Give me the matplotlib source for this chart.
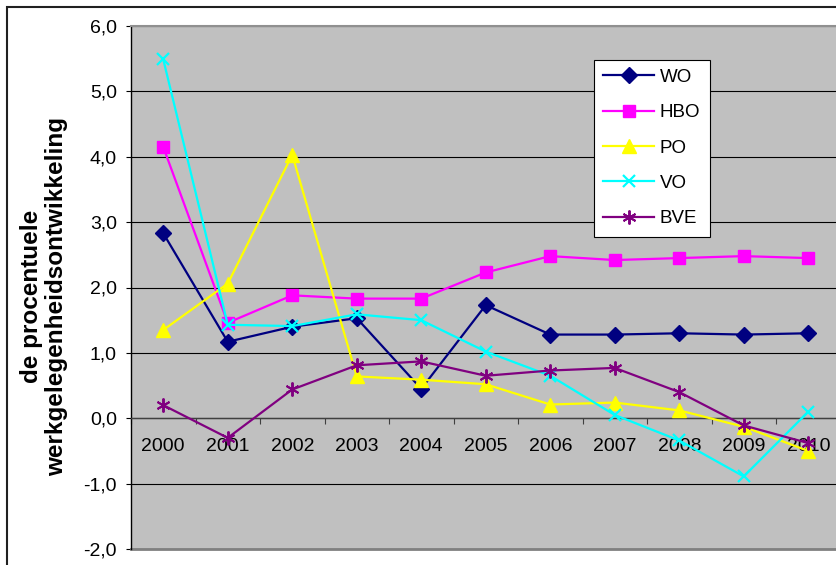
import matplotlib
matplotlib.use("Agg")
import matplotlib.pyplot as plt
from matplotlib.patches import Rectangle

plt.rcParams['font.family'] = ['Liberation Sans', 'DejaVu Sans']

years = ["2000", "2001", "2002", "2003", "2004", "2005", "2006", "2007", "2008", "2009", "2010"]
wo = [2.83, 1.17, 1.40, 1.53, 0.45, 1.73, 1.28, 1.28, 1.30, 1.28, 1.30]
hbo = [4.15, 1.46, 1.88, 1.83, 1.83, 2.23, 2.48, 2.42, 2.45, 2.48, 2.45]
po = [1.35, 2.06, 4.03, 0.64, 0.59, 0.52, 0.21, 0.24, 0.12, -0.13, -0.50]
vo = [5.49, 1.43, 1.41, 1.59, 1.50, 1.02, 0.65, 0.05, -0.34, -0.89, 0.10]
bve = [0.20, -0.30, 0.44, 0.81, 0.87, 0.65, 0.73, 0.77, 0.40, -0.11, -0.38]
ytick_vals = [-2, -1, 0, 1, 2, 3, 4, 5, 6]
ytick_labels = ["-2,0", "-1,0", "0,0", "1,0", "2,0", "3,0", "4,0", "5,0", "6,0"]
series_names = ["WO", "HBO", "PO", "VO", "BVE"]
ylabel = "de procentuele\nwerkgelegenheidsontwikkeling"

W, H = 836, 565
fig = plt.figure(figsize=(W / 100, H / 100), dpi=100)
fig.patch.set_facecolor('white')

left, right, top, bottom = 131, 840.5, 26, 549
ax = fig.add_axes([left / W, 1 - bottom / H, (right - left) / W, (bottom - top) / H])
ax.set_facecolor('#C0C0C0')

x = list(range(len(years)))
lw = 1.6
ax.plot(x, wo, color='#000080', lw=lw, marker='D', ms=8, mfc='#000080', mec='#000080', label=series_names[0], zorder=3)
ax.plot(x, hbo, color='#FF00FF', lw=lw, marker='s', ms=8.5, mfc='#FF00FF', mec='#FF00FF', label=series_names[1], zorder=3)
ax.plot(x, po, color='#FFFF00', lw=lw, marker='^', ms=9.5, mfc='#FFFF00', mec='#FFFF00', label=series_names[2], zorder=3)
ax.plot(x, vo, color='#00FFFF', lw=lw, marker='x', ms=9, mew=1.6, mec='#00FFFF', label=series_names[3], zorder=3)
ax.plot(x, bve, color='#800080', lw=lw, marker=(6, 2, 0), ms=10, mew=1.4, mec='#800080', label=series_names[4], zorder=3)

ax.set_xlim(-0.5, len(years) - 0.5)
ax.set_ylim(-2, 6)

# y axis
ax.set_yticks(ytick_vals)
ax.set_yticklabels(ytick_labels)
ax.tick_params(axis='y', direction='out', length=3.6, width=0.8, pad=6.5, labelsize=14, colors='black')
ax.yaxis.grid(True, color='black', lw=0.8)
ax.set_axisbelow(True)

# x axis at zero
ax.spines['bottom'].set_position(('data', 0))
ax.spines['bottom'].set_color('#404040')
ax.spines['bottom'].set_linewidth(1.0)
ax.spines['left'].set_color('black')
ax.spines['left'].set_linewidth(1.0)
ax.spines['top'].set_color('#909090')
ax.spines['top'].set_linewidth(1.5)
ax.spines['right'].set_visible(False)
ax.axhline(-2, color='#808080', lw=2.0, clip_on=False, zorder=1)

ax.set_xticks([i - 0.5 for i in range(len(years) + 1)])
ax.set_xticklabels([])
ax.set_xticks(x, minor=True)
ax.set_xticklabels(years, minor=True)
ax.tick_params(axis='x', which='major', direction='out', length=4.5, width=0.8, color='#404040')
ax.tick_params(axis='x', which='minor', length=0, pad=14, labelsize=14)

fig.text(44 / W, 1 - 296 / H, ylabel, rotation=90, ha='center', va='center',
         fontsize=17.5, fontweight='bold', linespacing=1.15)

leg = fig.legend(loc='upper left', bbox_to_anchor=(594 / W, 1 - 59.5 / H),
                 bbox_transform=fig.transFigure, fontsize=13.5, frameon=True,
                 fancybox=False, edgecolor='black', framealpha=1,
                 handlelength=2.7, handletextpad=0.3, borderpad=0.5,
                 labelspacing=0.97, borderaxespad=0)
leg.get_frame().set_linewidth(0.8)

# outer chart border
fig.patches.append(Rectangle((7 / W, -1), 2, 2 - 7 / H, transform=fig.transFigure,
                             fill=False, edgecolor='#202020', lw=1.5))

fig.savefig('out.png', dpi=100)
